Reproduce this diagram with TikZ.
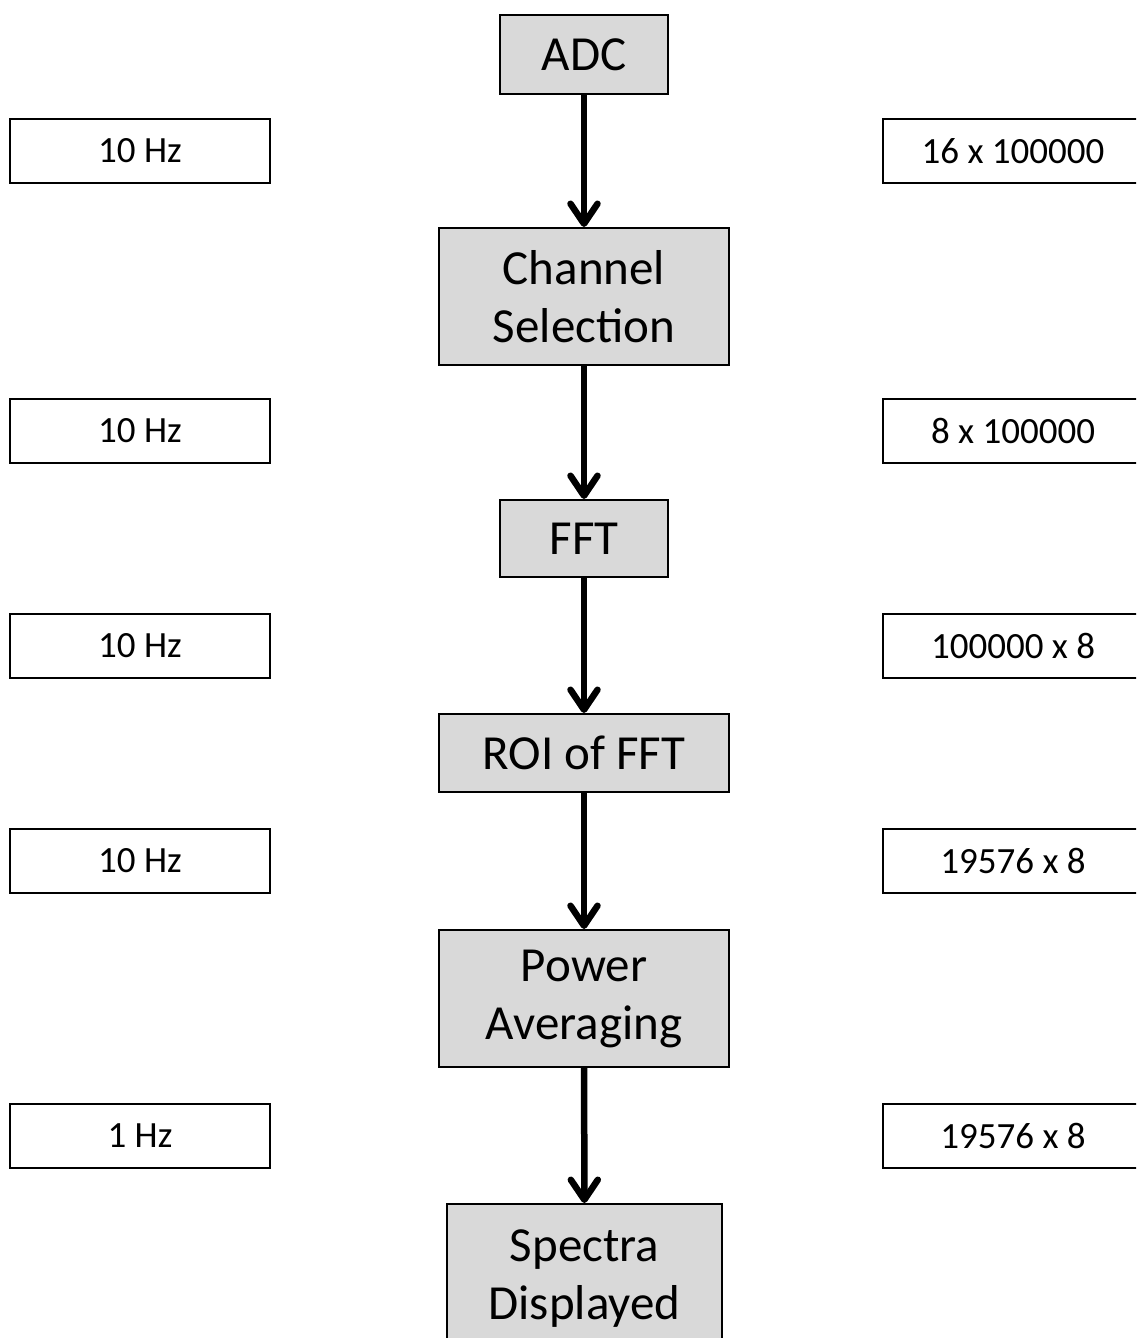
\documentclass[tikz,border=0pt]{standalone}
\usepackage{fontspec}
\setmainfont{Carlito}
\usetikzlibrary{arrows.meta}
\definecolor{stagefill}{HTML}{D9D9D9}
\tikzset{
  stage/.style={draw=black, line width=2pt, fill=stagefill, inner sep=0pt,
    align=center, font=\fontsize{49}{58}\selectfont},
  info/.style={draw=black, line width=2pt, fill=white, inner sep=0pt,
    minimum width=260pt, minimum height=64pt,
    font=\fontsize{37}{44}\selectfont},
  flow/.style={line width=6.5pt,
    -{Straight Barb[length=20pt, width=27pt, line width=6.5pt, round]}},
}
\begin{document}
\begin{tikzpicture}[x=1pt, y=-1pt]
  \useasboundingbox (0,0) rectangle (1136,1338);
  \clip (0,0) rectangle (1136,1338);

  % processing chain
  \node[stage, minimum width=168pt, minimum height=79pt] (adc) at (584,54.5) {ADC};
  \node[stage, minimum width=290pt, minimum height=137pt] (chan) at (584,296.5) {Channel\\Selection};
  \node[stage, minimum width=168pt, minimum height=77pt] (fft) at (584,538.5) {FFT};
  \node[stage, minimum width=290pt, minimum height=78pt] (roi) at (584,753) {ROI of FFT};
  \node[stage, minimum width=290pt, minimum height=137pt] (pow) at (584,998.5) {Power\\Averaging};
  \node[stage, minimum width=275pt, minimum height=150pt] (spec) at (584.5,1279) {Spectra\\Displayed};

  \draw[flow] (adc) -- (chan);
  \draw[flow] (chan) -- (fft);
  \draw[flow] (fft) -- (roi);
  \draw[flow] (roi) -- (pow);
  \draw[flow] (pow) -- (spec);

  % update rates
  \node[info] (r1) at (140,151) {10 Hz};
  \node[info] (r2) at (140,431) {10 Hz};
  \node[info] (r3) at (140,645.5) {10 Hz};
  \node[info] (r4) at (140,861) {10 Hz};
  \node[info] (r5) at (140,1136) {1 Hz};

  % data sizes
  \node[info] (s1) at (1013,151) {16 x 100000};
  \node[info] (s2) at (1013,431) {8 x 100000};
  \node[info] (s3) at (1013,645.5) {100000 x 8};
  \node[info] (s4) at (1013,861) {19576 x 8};
  \node[info] (s5) at (1013,1136) {19576 x 8};
\end{tikzpicture}
\end{document}
